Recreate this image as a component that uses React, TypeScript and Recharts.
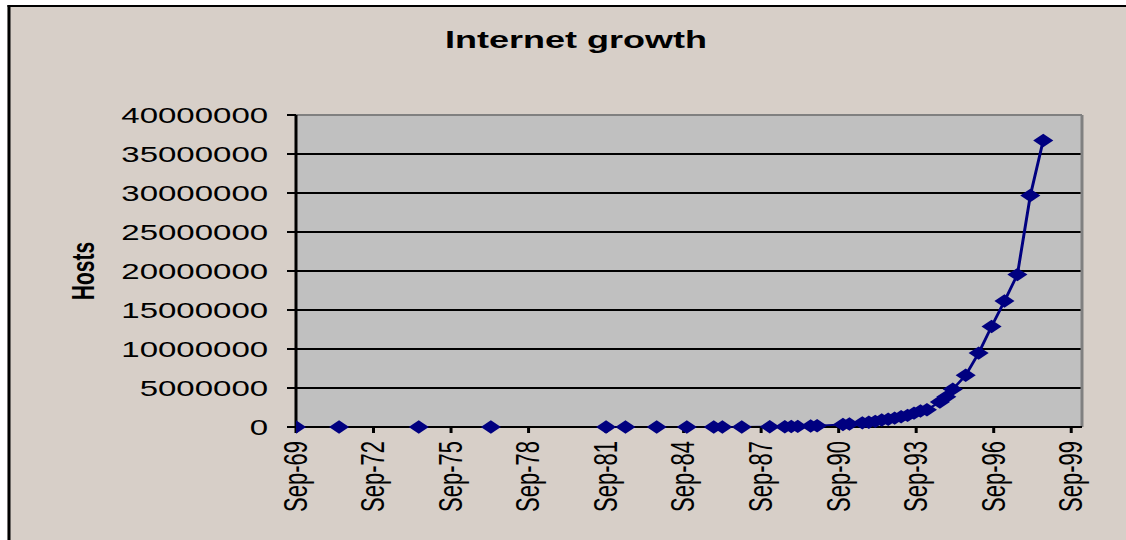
import React from 'react';
import { LineChart, Line, XAxis, YAxis, CartesianGrid, ReferenceLine } from 'recharts';

// months since Sep-1969
const months = [
  0, 20, 57, 90.5, 144, 153, 167.5, 181.5, 194, 198, 207, 220,
  227, 230, 233, 239, 242, 254, 257, 263, 266, 269, 272, 275,
  278, 281, 284, 287, 290, 293, 299, 302, 305, 311, 317, 323,
  329, 335, 341, 347,
];
const hosts = [
  4, 23, 62, 111, 213, 235, 562, 1024, 1961, 2308, 5089, 28174,
  33000, 56000, 80000, 130000, 159000, 313000, 376000, 535000, 617000, 727000, 890000, 992000,
  1136000, 1313000, 1486000, 1776000, 2056000, 2217000, 3212000, 3864000, 4852000, 6642000, 9472000, 12881000,
  16146000, 19540000, 29670000, 36739000,
];
const xTickMonths = [0, 36, 72, 108, 144, 180, 216, 252, 288, 324, 360];
const xTickLabels = ['Sep-69', 'Sep-72', 'Sep-75', 'Sep-78', 'Sep-81', 'Sep-84', 'Sep-87', 'Sep-90', 'Sep-93', 'Sep-96', 'Sep-99'];
const yTicks = [0, 5000000, 10000000, 15000000, 20000000, 25000000, 30000000, 35000000, 40000000];

const data = months.map((m, i) => ({ m, hosts: hosts[i] }));

const FONT = '"Liberation Sans", Arial, sans-serif';
const NAVY = '#000080';

const Diamond = (props: any) => {
  const { cx, cy, index } = props;
  if (cx == null || cy == null) return null;
  const r = 6.7;
  return (
    <polygon
      key={`d-${index}`}
      points={`${cx},${cy - r} ${cx + r},${cy} ${cx},${cy + r} ${cx - r},${cy}`}
      fill={NAVY}
      stroke="none"
    />
  );
};

const XTick = (props: any) => {
  const { x, y, payload } = props;
  const idx = xTickMonths.indexOf(payload.value);
  const label = idx >= 0 ? xTickLabels[idx] : '';
  return (
    <text
      x={x}
      y={y}
      transform={`rotate(-90 ${x} ${y})`}
      textAnchor="end"
      dy="0.33em"
      fontSize={22}
      fontFamily={FONT}
      fill="#000"
    >
      {label}
    </text>
  );
};

export default function App() {
  return (
    <div
      style={{
        position: 'absolute',
        left: 0,
        top: 0,
        width: 751,
        height: 540,
        transform: 'scaleX(1.5)',
        transformOrigin: '0 0',
        background: '#fff',
        overflow: 'hidden',
      }}
    >
      <div
        style={{
          position: 'absolute',
          left: 4.67,
          top: 5,
          right: -10,
          bottom: -10,
          borderLeft: '2px solid #000',
          borderTop: '2px solid #000',
          background: '#D7CFC8',
        }}
      />
      <div
        style={{
          position: 'absolute',
          left: 184,
          width: 400,
          top: 28,
          textAlign: 'center',
          fontFamily: FONT,
          fontWeight: 'bold',
          fontSize: 24,
          lineHeight: '24px',
          color: '#000',
          whiteSpace: 'nowrap',
        }}
      >
        Internet growth
      </div>
      <div
        style={{
          position: 'absolute',
          left: 54.7,
          top: 271,
          transform: 'translate(-50%, -50%) rotate(-90deg)',
          fontFamily: FONT,
          fontWeight: 'bold',
          fontSize: 21,
          lineHeight: 1,
          color: '#000',
          whiteSpace: 'nowrap',
        }}
      >
        Hosts
      </div>
      <div style={{ position: 'absolute', left: 0, top: 0 }}>
        <LineChart
          width={751}
          height={540}
          data={data}
          margin={{ top: 115, right: 29.67, bottom: 33, left: 77.33 }}
        >
          <CartesianGrid
            vertical={false}
            horizontal={true}
            fill="#C0C0C0"
            fillOpacity={1}
            stroke="#000"
            strokeWidth={2}
          />
          <ReferenceLine y={40000000} stroke="#808080" strokeWidth={2} />
          <ReferenceLine x={365} stroke="#808080" strokeWidth={2} />
          <XAxis
            type="number"
            dataKey="m"
            domain={[0, 365]}
            ticks={xTickMonths}
            interval={0}
            height={80}
            axisLine={{ stroke: '#000', strokeWidth: 2 }}
            tickLine={{ stroke: '#000', strokeWidth: 2 }}
            tickSize={6}
            tickMargin={8}
            tick={<XTick />}
            allowDataOverflow
          />
          <YAxis
            type="number"
            domain={[0, 40000000]}
            ticks={yTicks}
            interval={0}
            width={120}
            axisLine={{ stroke: '#000', strokeWidth: 2 }}
            tickLine={{ stroke: '#000', strokeWidth: 2 }}
            tickSize={6}
            tickMargin={12.6}
            tick={{ fontSize: 22, fontFamily: FONT, fill: '#000' }}
            tickFormatter={(v: number) => String(v)}
          />
          <Line
            type="linear"
            dataKey="hosts"
            stroke={NAVY}
            strokeWidth={2}
            dot={Diamond}
            activeDot={false}
            isAnimationActive={false}
          />
        </LineChart>
      </div>
    </div>
  );
}
